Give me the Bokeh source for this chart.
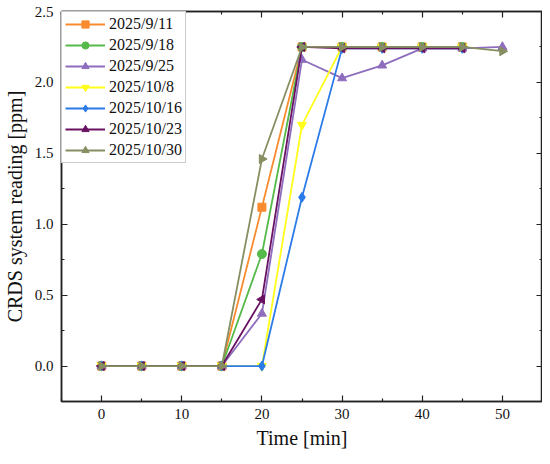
import math
from bokeh.plotting import figure
from bokeh.models import (LinearAxis, Range1d, Legend, LegendItem, FixedTicker,
                          ColumnDataSource, CustomJSTickFormatter)
from bokeh.embed import file_html
from bokeh.resources import INLINE

time_a = [0, 5, 10, 15, 20, 25, 30, 35, 40, 45]
time_b = [0, 5, 10, 15, 20, 25, 30, 35, 40, 45, 50]

labels = ["2025/9/11", "2025/9/18", "2025/9/25", "2025/10/8", "2025/10/16", "2025/10/23", "2025/10/30"]
s_0911 = [0, 0, 0, 0, 1.12, 2.25, 2.25, 2.25, 2.25, 2.25]
s_0918 = [0, 0, 0, 0, 0.79, 2.25, 2.25, 2.25, 2.25, 2.25]
s_0925 = [0, 0, 0, 0, 0.37, 2.16, 2.03, 2.12, 2.24, 2.24, 2.25]
s_1008 = [0, 0, 0, 0, 0.0, 1.70, 2.25, 2.25, 2.25, 2.25]
s_1016 = [0, 0, 0, 0, 0.0, 1.19, 2.24, 2.24, 2.24, 2.24]
s_1023 = [0, 0, 0, 0, 0.47, 2.25, 2.24, 2.24, 2.24, 2.24]
s_1030 = [0, 0, 0, 0, 1.46, 2.25, 2.25, 2.25, 2.25, 2.25, 2.22]

x_ticks = [0, 10, 20, 30, 40, 50]
x_minor = [-5, 5, 15, 25, 35, 45, 55]
y_ticks = [0, 0.5, 1.0, 1.5, 2.0, 2.5]
y_minor = [-0.25, 0.25, 0.75, 1.25, 1.75, 2.25]
y_tick_labels = ["0.0", "0.5", "1.0", "1.5", "2.0", "2.5"]

series = [s_0911, s_0918, s_0925, s_1008, s_1016, s_1023, s_1030]
xs = [time_a, time_a, time_b, time_a, time_a, time_a, time_b]
colors = ["#F98B2E", "#56BA4B", "#8F6DBE", "#FFFF1A", "#2B7BE8", "#6A1262", "#868E62"]
markers = ["square", "circle", "triangle", "inverted_triangle", "diamond", "triangle", "triangle"]
angles = [0, 0, 0, 0, 0, math.pi / 2, -math.pi / 2]
sizes = [8, 9, 9, 9, 10, 9, 9]

FONT = "Liberation Serif"

p = figure(width=542, height=456, output_backend="svg", toolbar_location=None,
           x_range=Range1d(-5, 55), y_range=Range1d(-0.25, 2.5),
           min_border_left=10, min_border_right=0, min_border_top=11, min_border_bottom=55)
p.grid.visible = False
p.outline_line_color = "#222222"
p.outline_line_width = 1.5
p.background_fill_color = "white"

items = []
for lab, x, y, c, m, a, s in zip(labels, xs, series, colors, markers, angles, sizes):
    src = ColumnDataSource(data=dict(x=x, y=y, ang=[a] * len(x)))
    l = p.line("x", "y", source=src, line_color=c, line_width=1.8)
    sc = p.scatter("x", "y", source=src, marker=m, size=s, angle="ang", fill_color=c, line_color=c)
    items.append(LegendItem(label=lab, renderers=[l, sc], index=0))

def style_axis(ax, labels_on=True):
    ax.axis_line_color = "#222222"
    ax.axis_line_width = 1.5
    ax.major_tick_in = 6
    ax.major_tick_out = 0
    ax.minor_tick_in = 3
    ax.minor_tick_out = 0
    ax.major_tick_line_color = "#222222"
    ax.minor_tick_line_color = "#222222"
    ax.major_tick_line_width = 1.2
    ax.minor_tick_line_width = 1.2
    ax.major_label_text_font = FONT
    ax.major_label_text_font_size = "15px"
    ax.major_label_text_color = "#111111"
    ax.axis_label_text_font = FONT
    ax.axis_label_text_font_size = "20px"
    ax.axis_label_text_font_style = "normal"
    ax.axis_label_text_color = "#111111"
    if not labels_on:
        ax.formatter = CustomJSTickFormatter(code="return ''")
        ax.major_label_standoff = 0
        ax.axis_label_standoff = 0

xt = FixedTicker(ticks=x_ticks, minor_ticks=x_minor)
yt = FixedTicker(ticks=y_ticks, minor_ticks=y_minor)

for ax in p.xaxis:
    style_axis(ax)
    ax.ticker = xt
    ax.axis_label = "Time [min]"
    ax.major_label_standoff = 7
    ax.axis_label_standoff = 5
for ax in p.yaxis:
    style_axis(ax)
    ax.ticker = yt
    ax.axis_label = "CRDS system reading [ppm]"
    ax.major_label_standoff = 8
    ax.axis_label_standoff = 6
    ax.major_label_overrides = dict(zip(y_ticks, y_tick_labels))

top = LinearAxis(ticker=xt)
style_axis(top, labels_on=False)
p.add_layout(top, "above")
right = LinearAxis(ticker=yt)
style_axis(right, labels_on=False)
p.add_layout(right, "right")

legend = Legend(items=items, location="top_left")
legend.label_text_font = FONT
legend.label_text_font_size = "16px"
legend.label_text_color = "#111111"
legend.glyph_width = 40
legend.glyph_height = 18
legend.label_height = 18
legend.spacing = 3
legend.padding = 3
legend.margin = 0
legend.label_standoff = 4
legend.border_line_color = "#999999"
legend.border_line_width = 1
legend.background_fill_alpha = 1
p.add_layout(legend)

open("out.html", "w").write(file_html(p, INLINE))
